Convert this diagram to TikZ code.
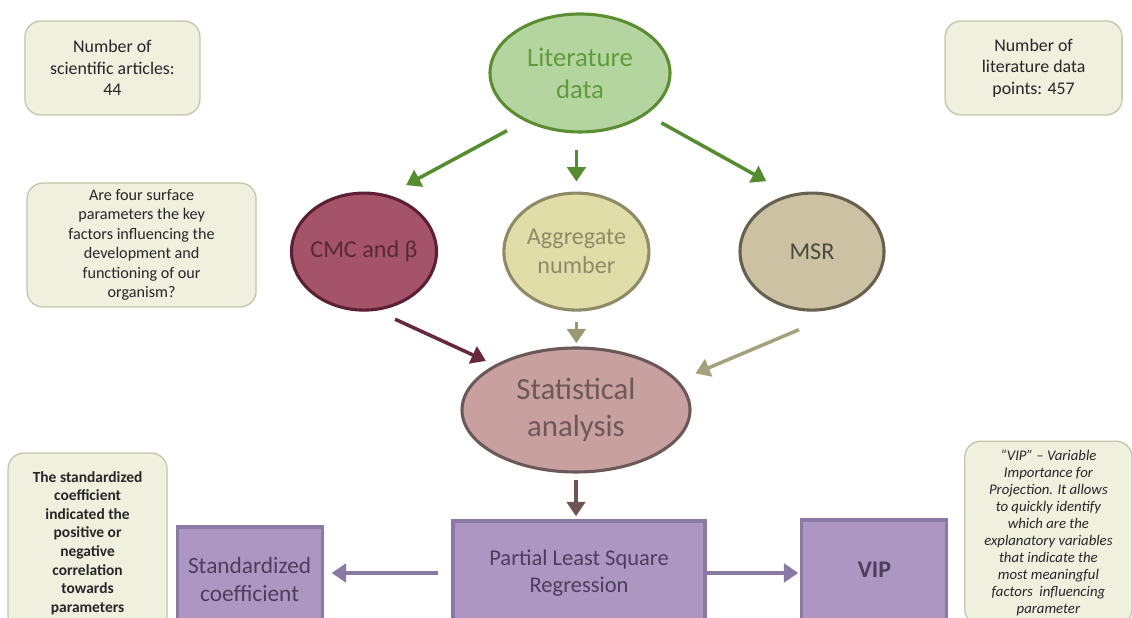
\documentclass[tikz,border=0pt]{standalone}
\usepackage{fontspec}
\setmainfont{Carlito}
\usetikzlibrary{shapes.geometric,arrows.meta}

\definecolor{notefill}{RGB}{239,240,221}
\definecolor{notedraw}{RGB}{196,196,170}
\definecolor{litfill}{RGB}{181,213,160}
\definecolor{litdraw}{RGB}{91,142,51}
\definecolor{littext}{RGB}{96,156,60}
\definecolor{garrow}{RGB}{84,140,47}
\definecolor{cmcfill}{RGB}{164,83,106}
\definecolor{cmcdraw}{RGB}{92,31,51}
\definecolor{cmctext}{RGB}{88,40,55}
\definecolor{cmcarrow}{RGB}{102,40,58}
\definecolor{aggfill}{RGB}{224,221,169}
\definecolor{aggdraw}{RGB}{142,139,102}
\definecolor{aggtext}{RGB}{142,140,104}
\definecolor{aggarrow}{RGB}{154,152,116}
\definecolor{msrfill}{RGB}{204,193,162}
\definecolor{msrdraw}{RGB}{102,96,78}
\definecolor{msrtext}{RGB}{77,72,64}
\definecolor{msrarrow}{RGB}{163,162,124}
\definecolor{statfill}{RGB}{201,160,160}
\definecolor{statdraw}{RGB}{108,88,88}
\definecolor{stattext}{RGB}{110,88,88}
\definecolor{statarrow}{RGB}{110,84,84}
\definecolor{plsfill}{RGB}{174,150,194}
\definecolor{plsdraw}{RGB}{139,120,165}
\definecolor{plstext}{RGB}{77,61,94}
\definecolor{parrow}{RGB}{138,120,165}

\tikzset{
  note/.style={draw=notedraw, fill=notefill, line width=0.9pt, rounded corners=0.4cm,
    align=center, inner sep=0pt, text=black!85},
  bubble/.style={ellipse, line width=2.2pt, align=center, inner ysep=0pt, inner xsep=-0.4cm},
  panel/.style={rectangle, line width=2.2pt, draw=plsdraw, fill=plsfill, text=plstext,
    align=center, inner sep=0pt},
  flow/.style={line width=2.5pt, -{Triangle[length=0.36cm,width=0.46cm]}},
}

\begin{document}
\begin{tikzpicture}
\clip (0,0) rectangle (28.3,15.45);

% side notes
\node[note, minimum width=4.375cm, minimum height=2.35cm,
  font=\fontsize{12.7}{15.3}\selectfont] (articles) at (2.81,13.75)
  {Number of\\scientific articles:\\44};
\node[note, minimum width=4.425cm, minimum height=2.35cm,
  font=\fontsize{12.7}{15.3}\selectfont] (points) at (25.84,13.75)
  {Number of\\literature data\\points: 457};
\node[note, minimum width=5.725cm, minimum height=3.1cm,
  font=\fontsize{11.5}{13.9}\selectfont] (question) at (3.54,9.325)
  {Are four surface\\parameters the key\\factors influencing the\\development and\\functioning of our\\organism?};
\node[note, minimum width=3.975cm, minimum height=4.5cm,
  font=\fontsize{11}{13.2}\selectfont\bfseries] (stdnote) at (2.19,1.875)
  {The standardized\\coefficient\\indicated the\\positive or\\negative\\correlation\\towards\\parameters};
\node[note, minimum width=4.18cm, minimum height=4.6cm,
  font=\fontsize{10.5}{12.1}\selectfont\itshape] (vipnote) at (26.21,2.12)
  {“VIP” – Variable\\Importance for\\Projection. It allows\\to quickly identify\\which are the\\explanatory variables\\that indicate the\\most meaningful\\factors\ \ influencing\\parameter};

% main flow
\node[bubble, draw=litdraw, fill=litfill, text=littext, minimum width=4.5cm, minimum height=2.95cm,
  font=\fontsize{19}{22.7}\selectfont] (lit) at (14.5,13.625) {Literature\\data};
\node[bubble, draw=cmcdraw, fill=cmcfill, text=cmctext, minimum width=3.625cm, minimum height=2.925cm,
  font=\fontsize{17.2}{20.6}\selectfont] (cmc) at (9.1,9.16) {CMC and β};
\node[bubble, draw=aggdraw, fill=aggfill, text=aggtext, minimum width=3.625cm, minimum height=2.925cm,
  font=\fontsize{17.2}{20.6}\selectfont] (agg) at (14.41,9.16) {Aggregate\\number};
\node[bubble, draw=msrdraw, fill=msrfill, text=msrtext, minimum width=3.6cm, minimum height=2.925cm,
  font=\fontsize{17.2}{20.6}\selectfont] (msr) at (20.3,9.16) {MSR};
\node[bubble, draw=statdraw, fill=statfill, text=stattext, minimum width=5.7cm, minimum height=3.1cm,
  font=\fontsize{21.9}{26.3}\selectfont] (stat) at (14.4,5.2) {Statistical\\analysis};
\node[panel, minimum width=6.3cm, minimum height=2.6cm,
  font=\fontsize{16}{19.2}\selectfont] (pls) at (14.475,1.125) {Partial Least Square\\Regression};
\node[panel, minimum width=3.625cm, minimum height=2.6cm,
  font=\fontsize{16.6}{19.9}\selectfont] (std) at (6.24,0.975) {Standardized\\coefficient};
\node[panel, minimum width=3.625cm, minimum height=2.5cm,
  font=\fontsize{17}{20}\selectfont\bfseries] (vip) at (21.86,1.2) {VIP};

% arrows
\draw[flow, draw=garrow, shorten <=0.5cm, shorten >=0.51cm] (lit.221) -- (cmc.67);
\draw[flow, draw=garrow, shorten <=0.4cm, shorten >=0.25cm] (agg.north |- lit.south) -- (agg.north);
\draw[flow, draw=garrow, shorten <=0.425cm, shorten >=0.675cm] (lit.328) -- (msr.111);
\draw[flow, draw=cmcarrow, shorten <=0.51cm, shorten >=0.24cm] (cmc.282) -- (stat.151);
\draw[flow, draw=aggarrow, shorten <=0.25cm, shorten >=0.08cm] (agg.south) -- (agg.south |- stat.north);
\draw[flow, draw=msrarrow, shorten >=0.46cm] ([xshift=-0.325cm,yshift=-0.45cm]msr.south) -- (stat.16);
\draw[flow, draw=statarrow, shorten <=0.15cm, shorten >=0.08cm] (stat.south) -- (stat.south |- pls.north);
\draw[flow, draw=parrow, shorten <=0.325cm, shorten >=0.2cm] (pls.west) -- (pls.west -| std.east);
\draw[flow, draw=parrow, shorten >=0.05cm] (pls.east) -- (pls.east -| vip.west);
\end{tikzpicture}
\end{document}
